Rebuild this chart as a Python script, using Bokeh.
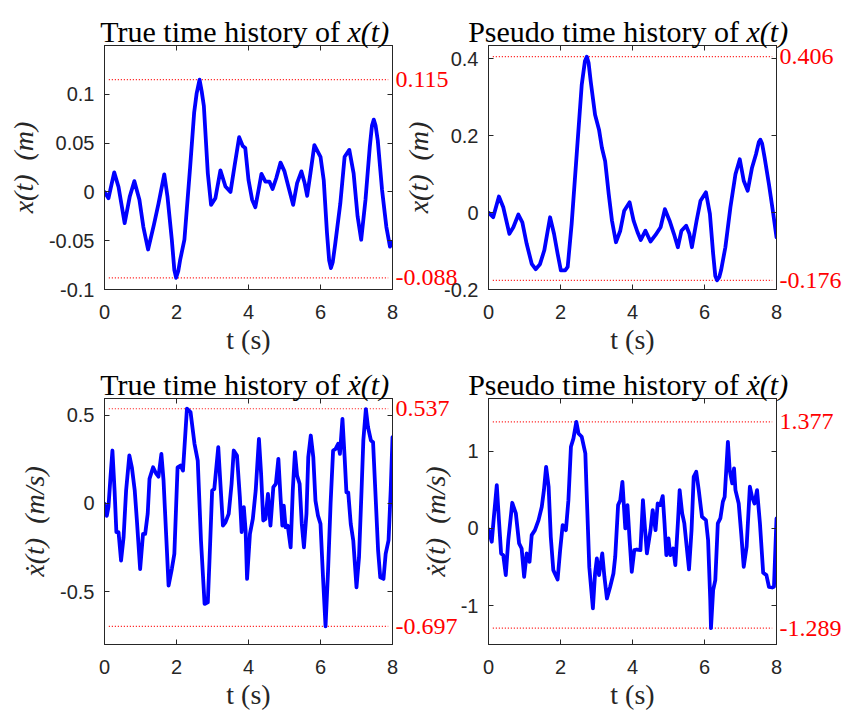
from bokeh.plotting import figure
from bokeh.models import Label, LinearAxis, FixedTicker, Range1d, CustomJSTickFormatter
from bokeh.embed import file_html
from bokeh.resources import INLINE

# ---------------- data ----------------
t_true_x = [0.0, 0.11, 0.27, 0.39, 0.56, 0.70, 0.83, 0.97, 1.08, 1.21, 1.37, 1.5, 1.66, 1.75, 1.87,
            1.94, 1.99, 2.05, 2.10, 2.22, 2.38, 2.49, 2.56, 2.64, 2.70, 2.76, 2.87, 2.96, 3.08, 3.22,
            3.36, 3.5, 3.61, 3.74, 3.84, 3.91, 4.0, 4.1, 4.19, 4.28, 4.36, 4.47, 4.58, 4.67, 4.77,
            4.89, 5.0, 5.12, 5.24, 5.35, 5.47, 5.56, 5.63, 5.72, 5.83, 6.0, 6.09, 6.18, 6.24, 6.29,
            6.34, 6.41, 6.55, 6.67, 6.8, 6.92, 7.03, 7.13, 7.25, 7.37, 7.43, 7.48, 7.53, 7.59, 7.71,
            7.83, 7.93, 8.0]
x_true = [0.0, -0.0065, 0.020, 0.005, -0.032, -0.005, 0.011, -0.008, -0.036, -0.059, -0.034, -0.012,
          0.018, -0.005, -0.049, -0.080, -0.088, -0.081, -0.070, -0.049, 0.026, 0.081, 0.101, 0.115,
          0.103, 0.088, 0.019, -0.0133, -0.0065, 0.022, 0.0055, 0.0, 0.026, 0.056, 0.047, 0.045,
          0.0123, -0.008, -0.0157, 0.002, 0.0185, 0.0106, 0.0106, 0.003, 0.014, 0.030, 0.021, 0.0038,
          -0.0133, 0.009, 0.021, 0.009, -0.004, 0.019, 0.048, 0.036, 0.012, -0.042, -0.070, -0.078,
          -0.072, -0.053, -0.012, 0.036, 0.043, 0.019, -0.025, -0.049, -0.008, 0.0465, 0.068, 0.074,
          0.068, 0.053, 0.002, -0.036, -0.056, -0.051]

t_pseudo_x = [0.0, 0.13, 0.29, 0.41, 0.58, 0.69, 0.83, 0.94, 1.06, 1.2, 1.31, 1.43, 1.55, 1.71, 1.82,
              1.92, 2.01, 2.13, 2.2, 2.31, 2.45, 2.59, 2.68, 2.73, 2.78, 2.84, 2.96, 3.07, 3.15, 3.24,
              3.34, 3.43, 3.54, 3.66, 3.77, 3.92, 4.03, 4.14, 4.23, 4.36, 4.5, 4.64, 4.78, 4.9, 5.03,
              5.15, 5.26, 5.36, 5.49, 5.58, 5.65, 5.78, 5.89, 6.04, 6.15, 6.24, 6.30, 6.35, 6.41, 6.46,
              6.58, 6.72, 6.86, 6.98, 7.09, 7.2, 7.32, 7.43, 7.51, 7.55, 7.60, 7.67, 7.79, 7.91, 8.0]
x_pseudo = [0.0, -0.012, 0.042, 0.014, -0.055, -0.038, -0.005, -0.025, -0.081, -0.133, -0.147, -0.134,
            -0.098, -0.012, -0.055, -0.107, -0.15, -0.15, -0.141, -0.029, 0.152, 0.333, 0.395, 0.406,
            0.390, 0.341, 0.255, 0.216, 0.169, 0.134, 0.048, -0.021, -0.077, -0.047, 0.005, 0.027,
            -0.021, -0.051, -0.071, -0.047, -0.075, -0.058, -0.038, 0.009, -0.021, -0.055, -0.09,
            -0.047, -0.034, -0.055, -0.09, -0.021, 0.031, 0.053, -0.003, -0.107, -0.165, -0.176,
            -0.168, -0.15, -0.09, 0.014, 0.1, 0.139, 0.083, 0.057, 0.117, 0.152, 0.184, 0.19, 0.18,
            0.143, 0.074, -0.003, -0.064]

t_true_v = [0.0, 0.065, 0.11, 0.16, 0.22, 0.28, 0.33, 0.39, 0.46, 0.53, 0.6, 0.69, 0.76, 0.84, 0.9,
            0.99, 1.07, 1.13, 1.2, 1.25, 1.35, 1.43, 1.5, 1.58, 1.64, 1.72, 1.78, 1.87, 1.94, 2.03,
            2.11, 2.18, 2.29, 2.39, 2.5, 2.59, 2.68, 2.78, 2.87, 2.92, 2.99, 3.05, 3.16, 3.22, 3.29,
            3.36, 3.45, 3.53, 3.59, 3.68, 3.76, 3.81, 3.87, 3.92, 3.96, 4.04, 4.12, 4.2, 4.29, 4.35,
            4.41, 4.47, 4.54, 4.61, 4.69, 4.76, 4.83, 4.89, 4.94, 4.98, 5.03, 5.09, 5.17, 5.23, 5.29,
            5.35, 5.42, 5.48, 5.54, 5.61, 5.66, 5.73, 5.8, 5.86, 5.93, 6.0, 6.07, 6.14, 6.21, 6.28,
            6.35, 6.42, 6.49, 6.54, 6.61, 6.67, 6.72, 6.77, 6.84, 6.91, 7.0, 7.07, 7.14, 7.19, 7.26,
            7.32, 7.4, 7.46, 7.54, 7.6, 7.66, 7.75, 7.81, 7.89, 7.95, 8.0]
v_true = [-0.002, -0.07, -0.02, 0.13, 0.3, 0.073, -0.163, -0.163, -0.324, -0.192, 0.073, 0.272, 0.205,
          0.073, -0.097, -0.372, -0.173, -0.173, -0.059, 0.139, 0.205, 0.171, 0.152, 0.281, 0.13,
          -0.21, -0.466, -0.372, -0.286, 0.205, 0.215, 0.186, 0.537, 0.518, 0.338, 0.243, -0.21,
          -0.57, -0.561, -0.305, 0.073, 0.082, 0.319, 0.111, -0.126, -0.107, -0.059, 0.111, 0.3,
          0.272, 0.035, -0.163, -0.021, -0.154, -0.428, -0.173, -0.088, 0.073, 0.366, 0.167, -0.097,
          -0.088, 0.054, -0.126, 0.092, 0.111, 0.253, 0.035, -0.126, -0.012, -0.135, -0.126, -0.249,
          0.073, 0.291, 0.158, 0.111, -0.116, -0.249, -0.059, 0.262, 0.385, 0.262, 0.016, -0.069,
          -0.116, -0.419, -0.697, -0.381, -0.002, 0.3, 0.309, 0.338, 0.281, 0.48, 0.262, 0.063,
          0.063, -0.116, -0.21, -0.476, -0.305, 0.073, 0.357, 0.535, 0.432, 0.357, 0.347, -0.002,
          -0.267, -0.419, -0.428, -0.286, -0.21, 0.073, 0.376]

t_pseudo_v = [0.0, 0.09, 0.15, 0.23, 0.29, 0.35, 0.41, 0.48, 0.55, 0.66, 0.76, 0.85, 0.92, 0.99, 1.06,
              1.14, 1.2, 1.29, 1.39, 1.48, 1.54, 1.6, 1.67, 1.73, 1.8, 1.92, 1.99, 2.06, 2.15, 2.22,
              2.29, 2.36, 2.44, 2.5, 2.59, 2.69, 2.72, 2.8, 2.9, 2.96, 3.01, 3.07, 3.16, 3.22, 3.29,
              3.38, 3.47, 3.52, 3.6, 3.66, 3.72, 3.8, 3.86, 3.92, 3.98, 4.05, 4.12, 4.22, 4.29, 4.34,
              4.4, 4.5, 4.56, 4.64, 4.7, 4.77, 4.84, 4.89, 4.94, 5.0, 5.05, 5.13, 5.19, 5.26, 5.31,
              5.38, 5.44, 5.52, 5.57, 5.64, 5.7, 5.77, 5.84, 5.93, 6.04, 6.1, 6.16, 6.18, 6.24, 6.3,
              6.37, 6.44, 6.51, 6.56, 6.65, 6.7, 6.77, 6.82, 6.86, 6.95, 7.02, 7.09, 7.17, 7.26, 7.32,
              7.39, 7.46, 7.54, 7.63, 7.72, 7.79, 7.88, 7.93, 8.0]
v_pseudo = [-0.013, -0.172, 0.151, 0.56, 0.108, -0.323, -0.345, -0.603, -0.151, 0.332, 0.194, -0.194,
            -0.259, -0.625, -0.323, -0.431, -0.086, -0.022, 0.108, 0.28, 0.496, 0.797, 0.539, -0.108,
            -0.539, -0.659, -0.28, 0.043, -0.022, 0.366, 1.056, 1.164, 1.377, 1.228, 1.185, 0.97,
            0.55, -0.5, -1.034, -0.582, -0.388, -0.603, -0.323, -0.625, -0.905, -0.754, -0.582,
            -0.366, 0.302, 0.366, 0.603, 0.0, 0.302, -0.151, -0.56, -0.28, -0.272, -0.28, 0.366,
            0.043, -0.323, -0.022, 0.237, -0.022, 0.323, 0.302, 0.418, 0.065, -0.345, -0.129, -0.345,
            -0.259, -0.474, 0.065, 0.496, 0.194, 0.065, -0.302, -0.53, -0.022, 0.668, 0.733, 0.496,
            0.151, 0.108, -0.151, -0.927, -1.289, -0.797, -0.668, 0.065, 0.129, 0.345, 0.409, 1.12,
            0.754, 0.582, 0.776, 0.496, 0.323, -0.065, -0.496, -0.237, 0.539, 0.409, 0.323, 0.496,
            0.065, -0.573, -0.603, -0.754, -0.763, -0.754, 0.129]

ref_t = [0.12, 7.88]          # extent of the dotted max/min reference lines
x_ticks = [0, 2, 4, 6, 8]
x_tick_labels = ["0", "2", "4", "6", "8"]
yt_true_x = [-0.1, -0.05, 0, 0.05, 0.1]
yl_true_x = ["-0.1", "-0.05", "0", "0.05", "0.1"]
yt_pseudo_x = [-0.2, 0, 0.2, 0.4]
yl_pseudo_x = ["-0.2", "0", "0.2", "0.4"]
yt_true_v = [-0.5, 0, 0.5]
yl_true_v = ["-0.5", "0", "0.5"]
yt_pseudo_v = [-1, 0, 1]
yl_pseudo_v = ["-1", "0", "1"]
ylim_true_x = (-0.1, 0.15)
ylim_pseudo_x = (-0.2, 0.435)
ylim_true_v = (-0.80, 0.595)
ylim_pseudo_v = (-1.5, 1.68)
title_words = ["True time history of", "Pseudo time history of"]
title_syms = ["x(t)", "\u1e8b(t)"]
y_labels = ["x(t)\u00a0\u00a0(m)", "\u1e8b(t)\u00a0\u00a0(m/s)"]
x_label = "t (s)"

# ---------------- style / layout ----------------
SERIF = "Liberation Serif"
SANS = "Liberation Sans"
AX = "#262626"
W, H = 845, 713
# frame boxes (left, right, top, bottom) in page pixels; every canvas covers the whole page
FRAME_TL = (104, 392, 45, 289)
FRAME_TR = (488, 776, 45, 289)
FRAME_BL = (104, 392, 398, 644)
FRAME_BR = (488, 776, 398, 644)


def style_axis(ax, ticks, labels, standoff):
    ax.ticker = FixedTicker(ticks=ticks)
    ax.major_label_overrides = dict(zip(ticks, labels))
    ax.major_label_text_font = SANS
    ax.major_label_text_font_size = "20px"
    ax.major_label_text_color = AX
    ax.major_tick_in = 5
    ax.major_tick_out = 0
    ax.minor_tick_line_color = None
    ax.major_tick_line_color = AX
    ax.axis_line_color = AX
    ax.major_label_standoff = standoff
    ax.axis_label_text_font = SERIF
    ax.axis_label_text_font_size = "28px"
    ax.axis_label_text_color = AX


def blank_axis(ticks):
    a = LinearAxis(ticker=FixedTicker(ticks=ticks),
                   formatter=CustomJSTickFormatter(code="return ''"))
    a.major_label_text_font_size = "0px"
    a.major_label_standoff = 0
    a.major_tick_in = 5
    a.major_tick_out = 0
    a.minor_tick_line_color = None
    a.major_tick_line_color = AX
    a.axis_line_color = AX
    return a


def make_panel(t, v, ylim, yticks, ylabels, ylab, roman, sym, split, frame, top_row):
    L, R, T, B = frame
    fw, fh = R - L, B - T
    p = figure(width=W, height=H, x_range=Range1d(0, 8), y_range=Range1d(*ylim),
               output_backend="svg", toolbar_location=None,
               min_border_left=L, min_border_right=W - R,
               min_border_top=T, min_border_bottom=H - B,
               border_fill_color=None, background_fill_color="white")
    p.styles = {"position": "absolute", "left": "0px", "top": "0px"}
    p.xgrid.visible = False
    p.ygrid.visible = False
    p.outline_line_color = AX
    p.extra_x_ranges = {"px": Range1d(0, fw)}
    p.extra_y_ranges = {"px": Range1d(0, fh)}

    style_axis(p.xaxis[0], x_ticks, x_tick_labels, 15)
    style_axis(p.yaxis[0], yticks, ylabels, 10)
    p.xaxis[0].axis_label = x_label
    p.xaxis[0].axis_label_standoff = 2
    p.yaxis[0].axis_label = ylab
    p.yaxis[0].axis_label_standoff = 7
    p.yaxis[0].axis_label_text_font_style = "italic"
    p.xaxis[0].axis_label_text_font_style = "normal"
    p.add_layout(blank_axis(x_ticks), "above")
    p.add_layout(blank_axis(yticks), "right")

    vmax, vmin = max(v), min(v)
    p.line(ref_t, [vmax, vmax], line_color="red", line_width=1.2, line_dash="1 2")
    p.line(ref_t, [vmin, vmin], line_color="red", line_width=1.2, line_dash="1 2")
    p.line(t, v, line_color="#0000FF", line_width=3.8, line_join="round", line_cap="round")

    # max / min values written in red at the right of the frame
    ra = LinearAxis(ticker=FixedTicker(ticks=[vmin, vmax]))
    ra.major_label_overrides = {vmin: f"{vmin:.3f}", vmax: f"{vmax:.3f}"}
    ra.major_label_text_color = "red"
    ra.major_label_text_font = SERIF
    ra.major_label_text_font_size = "24px"
    ra.major_label_standoff = -3
    ra.major_tick_line_color = None
    ra.minor_tick_line_color = None
    ra.axis_line_color = None
    p.add_layout(ra, "right")

    # title: roman words + italic symbol
    common = dict(x=split, y=fh + 14, x_units="data", y_units="data",
                  x_range_name="px", y_range_name="px",
                  text_font=SERIF, text_font_size="30px", text_color="black",
                  text_baseline="alphabetic")
    p.add_layout(Label(text=roman + "\u00a0", text_align="right", **common), "above")
    p.add_layout(Label(text=sym, text_align="left", text_font_style="italic", **common),
                 "below" if top_row else "above")
    return p


p1 = make_panel(t_true_x, x_true, ylim_true_x, yt_true_x, yl_true_x, y_labels[0],
                title_words[0], title_syms[0], 243, FRAME_TL, True)
p2 = make_panel(t_pseudo_x, x_pseudo, ylim_pseudo_x, yt_pseudo_x, yl_pseudo_x, y_labels[0],
                title_words[1], title_syms[0], 258, FRAME_TR, True)
p3 = make_panel(t_true_v, v_true, ylim_true_v, yt_true_v, yl_true_v, y_labels[1],
                title_words[0], title_syms[1], 243, FRAME_BL, False)
p4 = make_panel(t_pseudo_v, v_pseudo, ylim_pseudo_v, yt_pseudo_v, yl_pseudo_v, y_labels[1],
                title_words[1], title_syms[1], 258, FRAME_BR, False)

open("out.html", "w").write(file_html([p1, p2, p3, p4], INLINE))
